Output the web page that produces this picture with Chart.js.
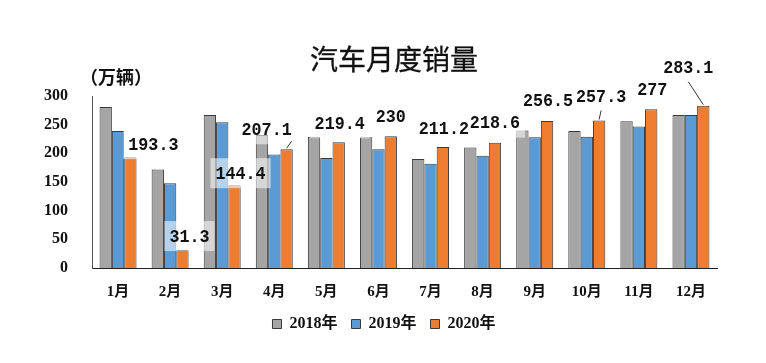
<!DOCTYPE html>
<html>
<head>
<meta charset="utf-8">
<script src="https://cdn.jsdelivr.net/npm/chart.js@4.4.1/dist/chart.umd.min.js"></script>
<style>
  html, body { margin: 0; padding: 0; background: #fff; }
</style>
</head>
<body>
<canvas id="sales-chart" width="766" height="363"></canvas>
<script>
// data (万辆)
var months = ["1月", "2月", "3月", "4月", "5月", "6月", "7月", "8月", "9月", "10月", "11月", "12月"];
var sales2018 = [281, 172, 267, 232, 229, 228, 190, 210, 240, 239, 256, 267];
var sales2019 = [239, 148, 254, 198, 192, 207, 182, 196, 228, 229, 247, 267];
var sales2020 = [193.3, 31.3, 144.4, 207.1, 219.4, 230, 211.2, 218.6, 256.5, 257.3, 277, 283.1];
var yTicks = [0, 50, 100, 150, 200, 250, 300];

// where each 2020 label sits, relative to the top of its bar (px)
var labelOffsets = [[23, -13], [7, -14], [6, -12], [-20, -20], [1, -19], [0, -20],
                    [1, -19], [0, -20], [1, -21], [2, -24], [1, -20], [-15, -38]];
// leader line start, relative to label centre (null = no line)
var leaderFrom = [null, null, null, [25, 12], null, null, null, null, null, [0, 14], null, [0, 14]];

var latin = "'Liberation Serif', 'Noto Sans CJK SC'";

var overlay = {
  id: "overlay",
  afterDraw: function (chart) {
    var c = chart.ctx;
    c.save();
    c.fillStyle = "#111";
    c.strokeStyle = "#111";
    c.textAlign = "center";
    c.textBaseline = "middle";
    c.font = "28px 'Noto Sans CJK SC'";
    c.fillText("汽车月度销量", 394, 59);
    c.lineWidth = 0.3;
    c.strokeText("汽车月度销量", 394, 59);
    c.font = "bold 18px 'Noto Sans CJK SC'";
    c.fillText("（万辆）", 116, 77);
    c.restore();
  },
  afterDatasetsDraw: function (chart) {
    var c = chart.ctx;
    var bars = chart.getDatasetMeta(2).data;
    c.save();
    c.font = "bold 19px 'Liberation Mono'";
    c.textAlign = "center";
    c.textBaseline = "middle";
    var squeeze = 0.88;
    var spots = bars.map(function (bar, i) {
      var text = String(sales2020[i]);
      return {
        bar: bar, text: text,
        x: bar.x + labelOffsets[i][0],
        y: bar.y + labelOffsets[i][1],
        w: c.measureText(text).width * squeeze + 10
      };
    });
    spots.forEach(function (s) {
      c.fillStyle = "rgba(255,255,255,0.55)";
      c.fillRect(s.x - s.w / 2, s.y - 15, s.w, 30);
    });
    spots.forEach(function (s, i) {
      c.fillStyle = "#111";
      c.save();
      c.translate(s.x, s.y + 1);
      c.scale(squeeze, 1);
      c.fillText(s.text, 0, 0);
      c.restore();
      if (leaderFrom[i]) {
        c.strokeStyle = "#333";
        c.lineWidth = 1;
        c.beginPath();
        c.moveTo(s.x + leaderFrom[i][0], s.y + leaderFrom[i][1]);
        c.lineTo(s.bar.x, s.bar.y - 1);
        c.stroke();
      }
    });
    c.restore();
  }
};

var ctx = document.getElementById("sales-chart").getContext("2d");
new Chart(ctx, {
  type: "bar",
  data: {
    labels: months,
    datasets: [
      { label: "2018年", data: sales2018, backgroundColor: "#A5A5A5", borderColor: "#3a3a3a", borderWidth: 1 },
      { label: "2019年", data: sales2019, backgroundColor: "#5B9BD5", borderColor: "#3a3a3a", borderWidth: 1 },
      { label: "2020年", data: sales2020, backgroundColor: "#ED7D31", borderColor: "#3a3a3a", borderWidth: 1 }
    ]
  },
  options: {
    responsive: false,
    animation: false,
    devicePixelRatio: 1,
    layout: { padding: { top: 96, left: 20, right: 18, bottom: 21 } },
    datasets: { bar: { categoryPercentage: 0.71, barPercentage: 1.0 } },
    scales: {
      x: {
        grid: { display: false, drawTicks: false },
        border: { display: true, color: "#222", width: 1 },
        ticks: { color: "#111", padding: 15, font: { family: latin, size: 15, weight: "bold" } },
        afterFit: function (scale) { scale.height -= 14; }
      },
      y: {
        min: 0,
        max: 300,
        afterBuildTicks: function (axis) {
          axis.ticks = yTicks.map(function (v) { return { value: v }; });
        },
        grid: { display: false, drawTicks: false },
        border: { display: true, color: "#555", width: 1 },
        ticks: { color: "#111", padding: 24, font: { family: latin, size: 16, weight: "bold" } }
      },
      // empty right-hand axis, only keeps the plot off the right edge so the legend stays centred
      spacer: {
        position: "right",
        grid: { display: false, drawTicks: false },
        border: { display: false },
        ticks: { display: false },
        afterFit: function (scale) { scale.width = 31; }
      }
    },
    plugins: {
      legend: {
        position: "bottom",
        labels: {
          color: "#111",
          boxWidth: 9,
          boxHeight: 9,
          padding: 14,
          font: { family: latin, size: 16, weight: "bold" }
        }
      },
      tooltip: { enabled: false }
    }
  },
  plugins: [overlay]
});
</script>
</body>
</html>
